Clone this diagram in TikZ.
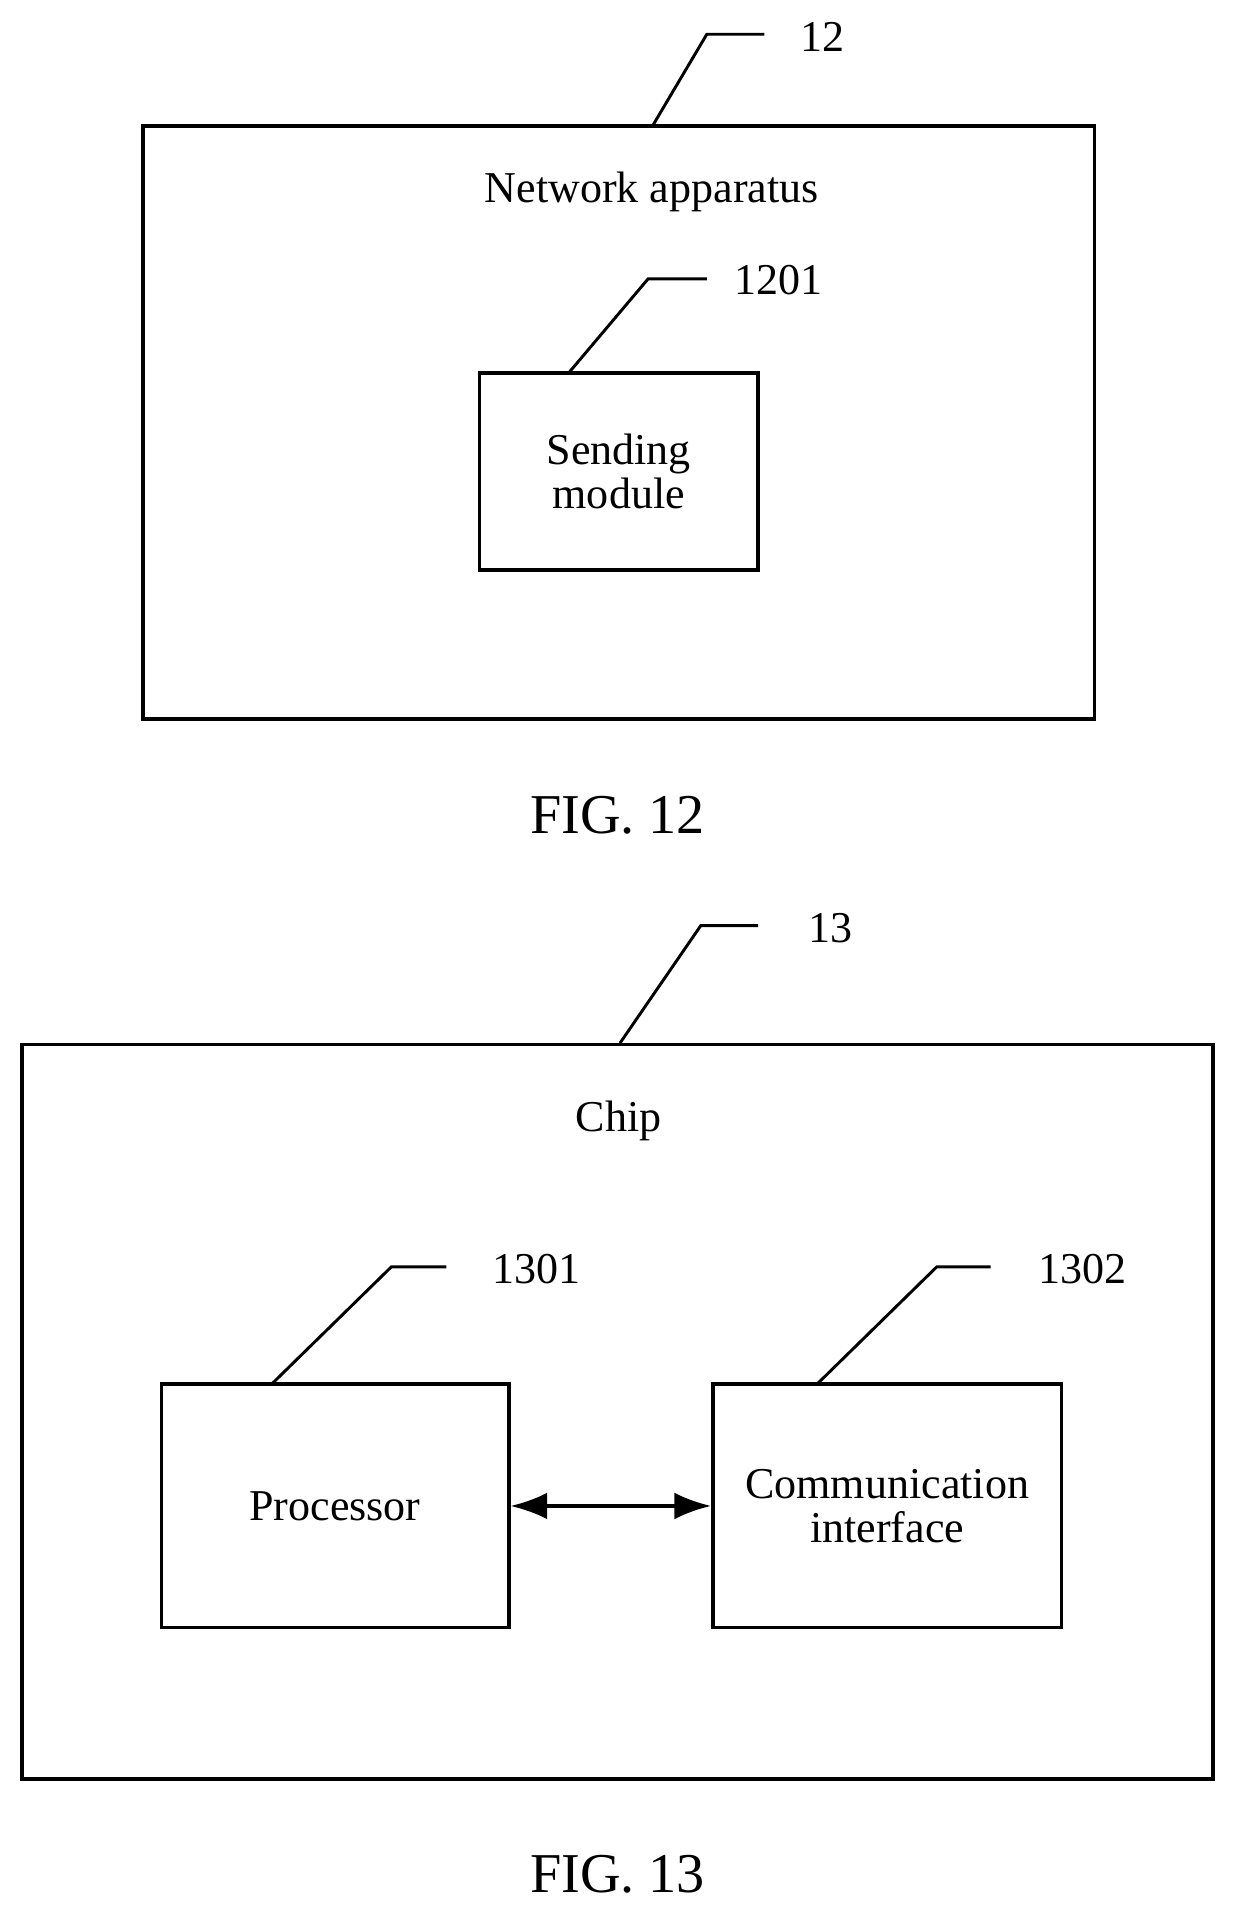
\documentclass[tikz,border=0pt]{standalone}
\usepackage{fontspec}
\setmainfont{Liberation Serif}
\usetikzlibrary{arrows.meta}
\tikzset{
  box/.style={draw,line width=3pt,align=center,font=\fontsize{36}{42}\selectfont},
  lead/.style={line width=2.4pt},
  num/.style={font=\fontsize{36}{42}\selectfont},
  fig/.style={font=\fontsize{46}{54}\selectfont}
}
\begin{document}
\begin{tikzpicture}[x=1pt,y=-1pt,>={Latex[length=30pt,width=22pt]}]
\useasboundingbox (0,0) rectangle (1014,1575);
% FIG. 12
\node[box,minimum width=778pt,minimum height=485pt] (net) at (506,345.5) {};
\node[num] (nettitle) at (533,157) {Network apparatus};
\coordinate (n12a) at (578,28);
\coordinate (n12b) at (625,28);
\draw[lead] (533,104)--(n12a)--(n12b);
\node[num] (l12) at (673,30) {12};
\node[box,minimum width=228pt,minimum height=161pt,inner sep=0pt] (send) at (506,385.5) {Sending\\[-6pt]module};
\coordinate (s1) at (530,228);
\coordinate (s2) at (578,228);
\draw[lead] (465,305)--(s1)--(s2);
\node[num] (l1201) at (637,229) {1201};
\node[fig] (fig12) at (505,667) {FIG. 12};
% FIG. 13
\node[box,minimum width=974pt,minimum height=601pt] (chip) at (505,1154.5) {};
\node[num] (chiptitle) at (506,917) {Chip};
\coordinate (c1) at (573,757);
\coordinate (c2) at (620,757);
\draw[lead] (507,853)--(c1)--(c2);
\node[num] (l13) at (679,759) {13};
\node[box,minimum width=284pt,minimum height=199pt] (proc) at (274,1231.5) {Processor};
\node[box,minimum width=285pt,minimum height=199pt,inner sep=0pt] (comm) at (725.5,1231.5) {Communication\\[-6pt]interface};
\coordinate (p1) at (320,1036);
\coordinate (p2) at (365,1036);
\draw[lead] (222,1132)--(p1)--(p2);
\node[num] (l1301) at (439,1038) {1301};
\coordinate (q1) at (766,1036);
\coordinate (q2) at (810,1036);
\draw[lead] (668,1132)--(q1)--(q2);
\node[num] (l1302) at (885,1038) {1302};
\draw[<->,line width=3pt] (proc.east)--(comm.west);
\node[fig] (fig13) at (505,1533) {FIG. 13};
\end{tikzpicture}
\end{document}
